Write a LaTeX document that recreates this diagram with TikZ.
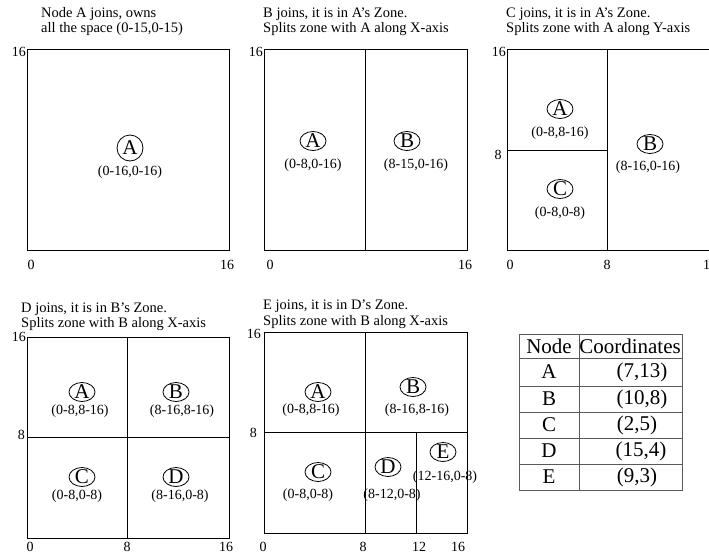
\documentclass[tikz,border=0pt]{standalone}
\usepackage{fontspec}
\setmainfont{Liberation Serif}
\usetikzlibrary{shapes.geometric}
\tikzset{
  zone/.style={draw, line width=1pt},
  split/.style={draw, line width=1pt},
  ball/.style={ellipse, draw, line width=0.8pt, minimum width=26pt, minimum height=19pt,
    inner sep=-1.5pt, font=\fontsize{21}{21}\selectfont},
  roundball/.style={circle, draw, line width=0.8pt, minimum size=26pt, inner sep=0pt,
    font=\fontsize{21}{21}\selectfont},
  lbl/.style={inner sep=0pt, font=\fontsize{14}{14}\selectfont},
  tick/.style={inner sep=0pt, font=\fontsize{14}{14}\selectfont},
  caption/.style={anchor=base west, inner sep=0pt, font=\fontsize{14.5}{15}\selectfont},
  cell/.style={inner sep=0pt, font=\fontsize{21}{21}\selectfont},
  grid/.style={draw=black!65, line width=1pt}
}
\begin{document}
\begin{tikzpicture}[x=1pt, y=-1pt]
\useasboundingbox (0,0) rectangle (709,554);

% ---------- step 1: A alone ----------
\node[caption] (t1a) at (41,17) {Node A joins, owns};
\node[caption] (t1b) at (41,32) {all the space (0-15,0-15)};
\draw[zone] (27,49) rectangle (229,250);
\node[tick, anchor=east] (p1y16) at (26,52) {16};
\node[tick] (p1x0) at (31,265) {0};
\node[tick] (p1x16) at (227,265) {16};
\node[roundball] (p1A) at (130,148) {A};
\node[lbl] (p1Az) at (130,172) {(0-16,0-16)};

% ---------- step 2: B splits along X ----------
\node[caption] (t2a) at (263,17) {B joins, it is in A's Zone.};
\node[caption] (t2b) at (263,32) {Splits zone with A along X-axis};
\draw[zone] (264,49) rectangle (467,250);
\draw[split] (365,49) -- (365,250);
\node[tick, anchor=east] (p2y16) at (263,52) {16};
\node[tick] (p2x0) at (270,265) {0};
\node[tick] (p2x16) at (465,265) {16};
\node[ball] (p2A) at (313,141) {A};
\node[lbl] (p2Az) at (313,165) {(0-8,0-16)};
\node[ball] (p2B) at (407,141) {B};
\node[lbl] (p2Bz) at (416,165) {(8-15,0-16)};

% ---------- step 3: C splits along Y ----------
\node[caption] (t3a) at (506,17) {C joins, it is in A's Zone.};
\node[caption] (t3b) at (506,32) {Splits zone with A along Y-axis};
\draw[zone] (507,49) rectangle (709,250);
\draw[split] (607,49) -- (607,250);
\draw[split] (507,150) -- (607,150);
\node[tick, anchor=east] (p3y16) at (506,52) {16};
\node[tick] (p3y8) at (498,155) {8};
\node[tick] (p3x0) at (510,265) {0};
\node[tick] (p3x8) at (607,265) {8};
\node[tick, anchor=west] (p3x16) at (703,265) {16};
\node[ball] (p3A) at (560,109) {A};
\node[lbl] (p3Az) at (560,133) {(0-8,8-16)};
\node[ball] (p3B) at (650,144) {B};
\node[lbl] (p3Bz) at (648,167) {(8-16,0-16)};
\node[ball] (p3C) at (560,189) {C};
\node[lbl] (p3Cz) at (560,213) {(0-8,0-8)};

% ---------- step 4: D splits B along X ----------
\node[caption] (t4a) at (21,312) {D joins, it is in B's Zone.};
\node[caption] (t4b) at (21,327) {Splits zone with B along X-axis};
\draw[zone] (27,337) rectangle (229,538);
\draw[split] (127,337) -- (127,538);
\draw[split] (27,437) -- (229,437);
\node[tick, anchor=east] (p4y16) at (26,337) {16};
\node[tick, anchor=east] (p4y8) at (25,435) {8};
\node[tick] (p4x0) at (30,547) {0};
\node[tick] (p4x8) at (127,547) {8};
\node[tick] (p4x16) at (226,547) {16};
\node[ball] (p4A) at (82,392) {A};
\node[lbl] (p4Az) at (80,411) {(0-8,8-16)};
\node[ball] (p4B) at (176,392) {B};
\node[lbl] (p4Bz) at (182,411) {(8-16,8-16)};
\node[ball] (p4C) at (82,477) {C};
\node[lbl] (p4Cz) at (77,496) {(0-8,0-8)};
\node[ball] (p4D) at (176,477) {D};
\node[lbl] (p4Dz) at (180,496) {(8-16,0-8)};

% ---------- step 5: E splits D along X ----------
\node[caption] (t5a) at (263,309) {E joins, it is in D's Zone.};
\node[caption] (t5b) at (263,325) {Splits zone with B along X-axis};
\draw[zone] (264,332) rectangle (467,533);
\draw[split] (365,332) -- (365,533);
\draw[split] (264,432) -- (467,432);
\draw[split] (416,432) -- (416,533);
\node[tick, anchor=east] (p5y16) at (261,334) {16};
\node[tick, anchor=east] (p5y8) at (257,433) {8};
\node[tick] (p5x0) at (263,547) {0};
\node[tick] (p5x8) at (363,547) {8};
\node[tick] (p5x12) at (419,547) {12};
\node[tick] (p5x16) at (458,547) {16};
\node[ball] (p5A) at (318,392) {A};
\node[lbl] (p5Az) at (311,410) {(0-8,8-16)};
\node[ball] (p5B) at (413,387) {B};
\node[lbl] (p5Bz) at (417,410) {(8-16,8-16)};
\node[ball] (p5C) at (318,472) {C};
\node[lbl] (p5Cz) at (308,495) {(0-8,0-8)};
\node[ball] (p5D) at (388,467) {D};
\node[lbl] (p5Dz) at (392,495) {(8-12,0-8)};
\node[ball] (p5E) at (443,452) {E};
\node[lbl] (p5Ez) at (445,477) {(12-16,0-8)};

% ---------- table of node coordinates ----------
\draw[grid] (519,334) rectangle (682,490);
\draw[grid] (579,334) -- (579,490);
\foreach \yy in {358,386,412,438,464} \draw[grid] (519,\yy) -- (682,\yy);
\node[cell] (hNode) at (549,346) {Node};
\node[cell] (hCoord) at (630,346) {Coordinates};
\node[cell] (rA) at (549,372) {A};
\node[cell] (rB) at (549,399) {B};
\node[cell] (rC) at (549,425) {C};
\node[cell] (rD) at (549,451) {D};
\node[cell] (rE) at (549,477) {E};
\node[cell] (cA) at (642,372) {(7,13)};
\node[cell] (cB) at (642,399) {(10,8)};
\node[cell] (cC) at (637,425) {(2,5)};
\node[cell] (cD) at (641,451) {(15,4)};
\node[cell] (cE) at (637,477) {(9,3)};
\end{tikzpicture}
\end{document}
